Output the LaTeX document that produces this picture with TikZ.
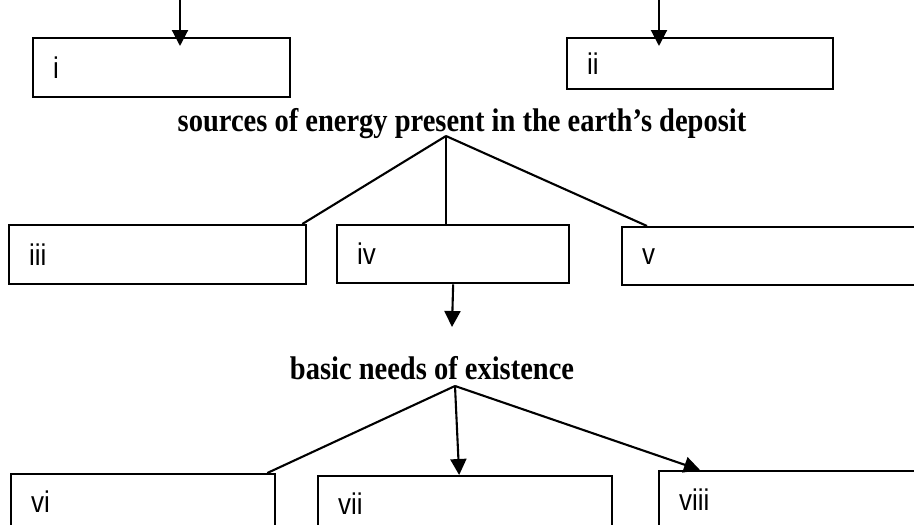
\documentclass[tikz,border=0pt]{standalone}
\usepackage{fontspec}
\setmainfont{Liberation Serif}
\setsansfont{Liberation Sans}
\usepackage{graphicx}
\usetikzlibrary{arrows.meta}

\newcommand{\tallish}[1]{\scalebox{1}[1.15]{#1}}

\tikzset{
  ansbox/.style={draw, line width=2.3pt, fill=white, anchor=north west, inner xsep=20pt, inner ysep=0pt, align=left, font=\sffamily\fontsize{26}{30}\selectfont},
  heading/.style={anchor=base, inner sep=0pt, font=\bfseries\fontsize{28.5}{32}\selectfont},
  link/.style={line width=2.1pt},
  flow/.style={line width=2.1pt, -{Triangle[width=16pt,length=16pt]}},
}

\begin{document}
\begin{tikzpicture}[x=1pt, y=-1pt]
    \useasboundingbox (0,0) rectangle (914,525);
    \clip (0,0) rectangle (914,525);

    % Top row
    \coordinate (topL) at (180,0);
    \coordinate (topR) at (659,0);
    \node[ansbox, text width=217pt, minimum height=59pt] (bi) at (32,37) {\tallish{i}};
    \node[ansbox, text width=226pt, minimum height=51pt] (bii) at (566,37) {\tallish{ii}};
    \draw[flow, shorten >=-9pt] (topL) -- (topL |- bi.north);
    \draw[flow, shorten >=-9pt] (topR) -- (topR |- bii.north);

    % Energy sources
    \node[heading] (sources) at (462,131) {\tallish{sources of energy present in the earth’s deposit}};
    \coordinate (srcapex) at (446,136);
    \node[ansbox, text width=257pt, minimum height=59pt] (biii) at (8,224) {\tallish{iii}};
    \node[ansbox, text width=192pt, minimum height=58pt] (biv) at (336,224) {\tallish{iv}};
    \node[ansbox, text width=280pt, minimum height=58pt] (bv) at (621,226) {\tallish{v}};
    \draw[link] (srcapex) -- ([xshift=-5pt]biii.north east);
    \draw[link] (srcapex) -- (srcapex |- biv.north);
    \draw[link] (srcapex) -- ([xshift=26pt]bv.north west);

    % Basic needs
    \coordinate (ivdown) at (452,327);
    \draw[flow] (biv.south) -- (ivdown);
    \node[heading] (needs) at (432,379) {\tallish{basic needs of existence}};
    \coordinate (needsapex) at (455,386);
    \node[ansbox, text width=224pt, minimum height=56pt] (bvi) at (10,473) {\tallish{vi}};
    \node[ansbox, text width=254pt, minimum height=56pt] (bvii) at (317,475) {\tallish{vii}};
    \node[ansbox, text width=260pt, minimum height=58pt] (bviii) at (658,470) {\tallish{viii}};
    \draw[link] (needsapex) -- ([xshift=-9pt]bvi.north east);
    \draw[flow] (needsapex) -- ([xshift=-6pt]bvii.north);
    \draw[flow] (needsapex) -- ([xshift=42pt]bviii.north west);
\end{tikzpicture}
\end{document}
